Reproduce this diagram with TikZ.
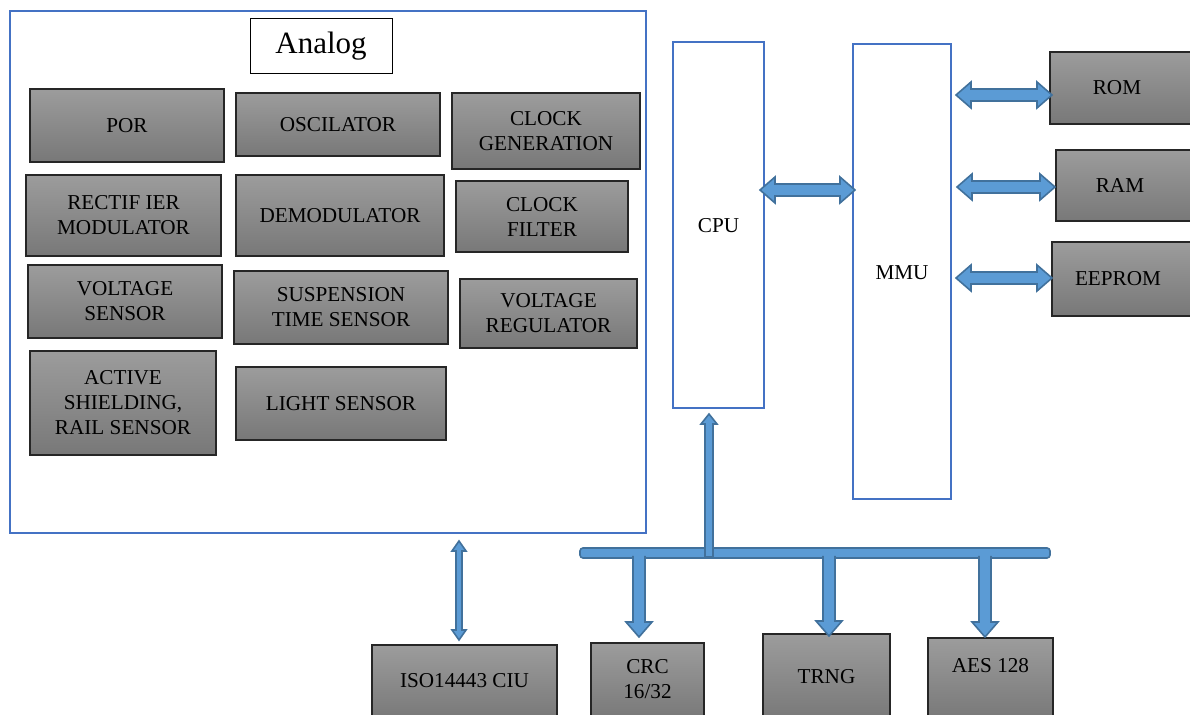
\documentclass[tikz,border=0pt]{standalone}
\usepackage{fontspec}
\setmainfont{Liberation Serif}
\usetikzlibrary{calc}
\definecolor{gtop}{HTML}{9C9C9C}
\definecolor{gbot}{HTML}{787878}
\definecolor{frameblue}{HTML}{4472C4}
\definecolor{arrfill}{HTML}{5B9BD5}
\definecolor{arrline}{HTML}{41719C}
\newcommand\blockbox[6]{%
  \node[gbox, minimum width={(#4-#2)*0.5pt}, minimum height={(#5-#3)*0.5pt}]
    (#1) at ({(#2+#4)/2},{(#3+#5)/2}) {#6};}
\newcommand\lowbox[7]{% name x1 y1 x2 y2 texty text
  \node[gbox, minimum width={(#4-#2)*0.5pt}, minimum height={(#5-#3)*0.5pt}]
    (#1) at ({(#2+#4)/2},{(#3+#5)/2}) {};
  \node[txt] at ({(#2+#4)/2},#6) {#7};}
\newcommand\hdar[4]{% name, x1, x2, y
  \draw[barrow] (#2,#4) coordinate (#1-a) -- ({#2+15},{#4-13}) -- ({#2+15},{#4-6}) -- ({#3-15},{#4-6})
    -- ({#3-15},{#4-13}) -- (#3,#4) coordinate (#1-b) -- ({#3-15},{#4+13}) -- ({#3-15},{#4+6})
    -- ({#2+15},{#4+6}) -- ({#2+15},{#4+13}) -- cycle;}
\newcommand\vdown[4]{% name, x, y1, y2(tip)
  \fill[arrfill] ({#2-6},#3) -- ({#2+6},#3) -- ({#2+6},{#4-15}) -- ({#2+13},{#4-15})
    -- (#2,#4) -- ({#2-13},{#4-15}) -- ({#2-6},{#4-15}) -- cycle;
  \draw[barrow, fill=none] ({#2+6},#3) coordinate (#1-a) -- ({#2+6},{#4-15}) -- ({#2+13},{#4-15})
    -- (#2,#4) coordinate (#1-b) -- ({#2-13},{#4-15}) -- ({#2-6},{#4-15}) -- ({#2-6},#3);}
\begin{document}
\begin{tikzpicture}[x=0.5pt,y=-0.5pt,
  txt/.style={inner sep=1pt, align=center, font=\fontsize{10.6}{12.5}\selectfont},
  gbox/.style={draw=black!85, line width=0.6pt, top color=gtop, bottom color=gbot,
    inner sep=1pt, align=center, font=\fontsize{10.6}{12.5}\selectfont},
  bluebox/.style={draw=frameblue, line width=1pt, fill=white, inner sep=0pt,
    font=\fontsize{10.6}{12.5}\selectfont},
  barrow/.style={draw=arrline, fill=arrfill, line width=0.8pt, line join=miter}]
\useasboundingbox (0,0) rectangle (1190,715);
% Analog frame
\node[bluebox, minimum width={636*0.5pt}, minimum height={522*0.5pt}] (analog) at (328,272) {};
\node[draw=black, line width=0.5pt, fill=white, minimum width={142*0.5pt}, minimum height={55*0.5pt},
  font=\fontsize{15.5}{18}\selectfont] (analoglbl) at (321,46.5) {Analog};
\blockbox{por}{30}{89}{224}{162}{POR}
\blockbox{osc}{236}{93}{440}{156}{OSCILATOR}
\blockbox{clkgen}{452}{93}{640}{169}{CLOCK\\GENERATION}
\blockbox{rect}{26}{175}{221}{256}{RECTIF IER\\MODULATOR}
\blockbox{demod}{236}{175}{444}{256}{DEMODULATOR}
\blockbox{clkfil}{456}{181}{628}{252}{CLOCK\\FILTER}
\blockbox{vsens}{28}{265}{222}{338}{VOLTAGE\\SENSOR}
\blockbox{susp}{234}{271}{448}{344}{SUSPENSION\\TIME SENSOR}
\blockbox{vreg}{460}{279}{637}{348}{VOLTAGE\\REGULATOR}
\blockbox{active}{30}{351}{216}{455}{ACTIVE\\SHIELDING,\\RAIL SENSOR}
\blockbox{light}{236}{367}{446}{440}{LIGHT SENSOR}
% CPU and MMU
\node[bluebox, minimum width={91*0.5pt}, minimum height={366*0.5pt}] (cpu) at (718.5,225) {};
\node[txt] at (718.5,226) {CPU};
\node[bluebox, minimum width={98*0.5pt}, minimum height={455*0.5pt}] (mmu) at (902,271.5) {};
\node[txt] at (902,273) {MMU};
% memories
\blockbox{rom}{1050}{52}{1196}{124}{\hspace*{-6pt}ROM}
\blockbox{ram}{1056}{150}{1196}{221}{\hspace*{-6pt}RAM}
\blockbox{eeprom}{1052}{242}{1196}{316}{\hspace*{-6pt}EEPROM}
% bottom blocks
\lowbox{iso}{372}{645}{557}{720}{681}{ISO14443 CIU}
\lowbox{crc}{591}{643}{704}{720}{679}{CRC\\16/32}
\lowbox{trng}{763}{634}{890}{720}{677}{TRNG}
\lowbox{aes}{928}{638}{1053}{720}{666}{AES 128}
% horizontal double arrows
\hdar{cpummu}{760}{855}{190}
\hdar{rommmu}{956}{1052}{95}
\hdar{rammmu}{957}{1055}{187}
\hdar{eemmu}{956}{1052}{278}
% bus
\draw[barrow, rounded corners=1.5pt] (580,548) rectangle (1050,558);
\coordinate (bus) at (815,553);
% up arrow to CPU
\draw[barrow] (705,557) -- (713,557) -- (713,424) -- (717,424) -- (709,414) -- (701,424) -- (705,424) -- cycle;
% down arrows
\vdown{crcarr}{639}{556}{637}
\vdown{trngarr}{829}{556}{636}
\vdown{aesarr}{985}{556}{637}
% ISO double arrow
\draw[barrow] (459,541) -- (466,551) -- (462,551) -- (462,630) -- (466,630) -- (459,640)
  -- (452,630) -- (456,630) -- (456,551) -- (452,551) -- cycle;
\end{tikzpicture}
\end{document}
